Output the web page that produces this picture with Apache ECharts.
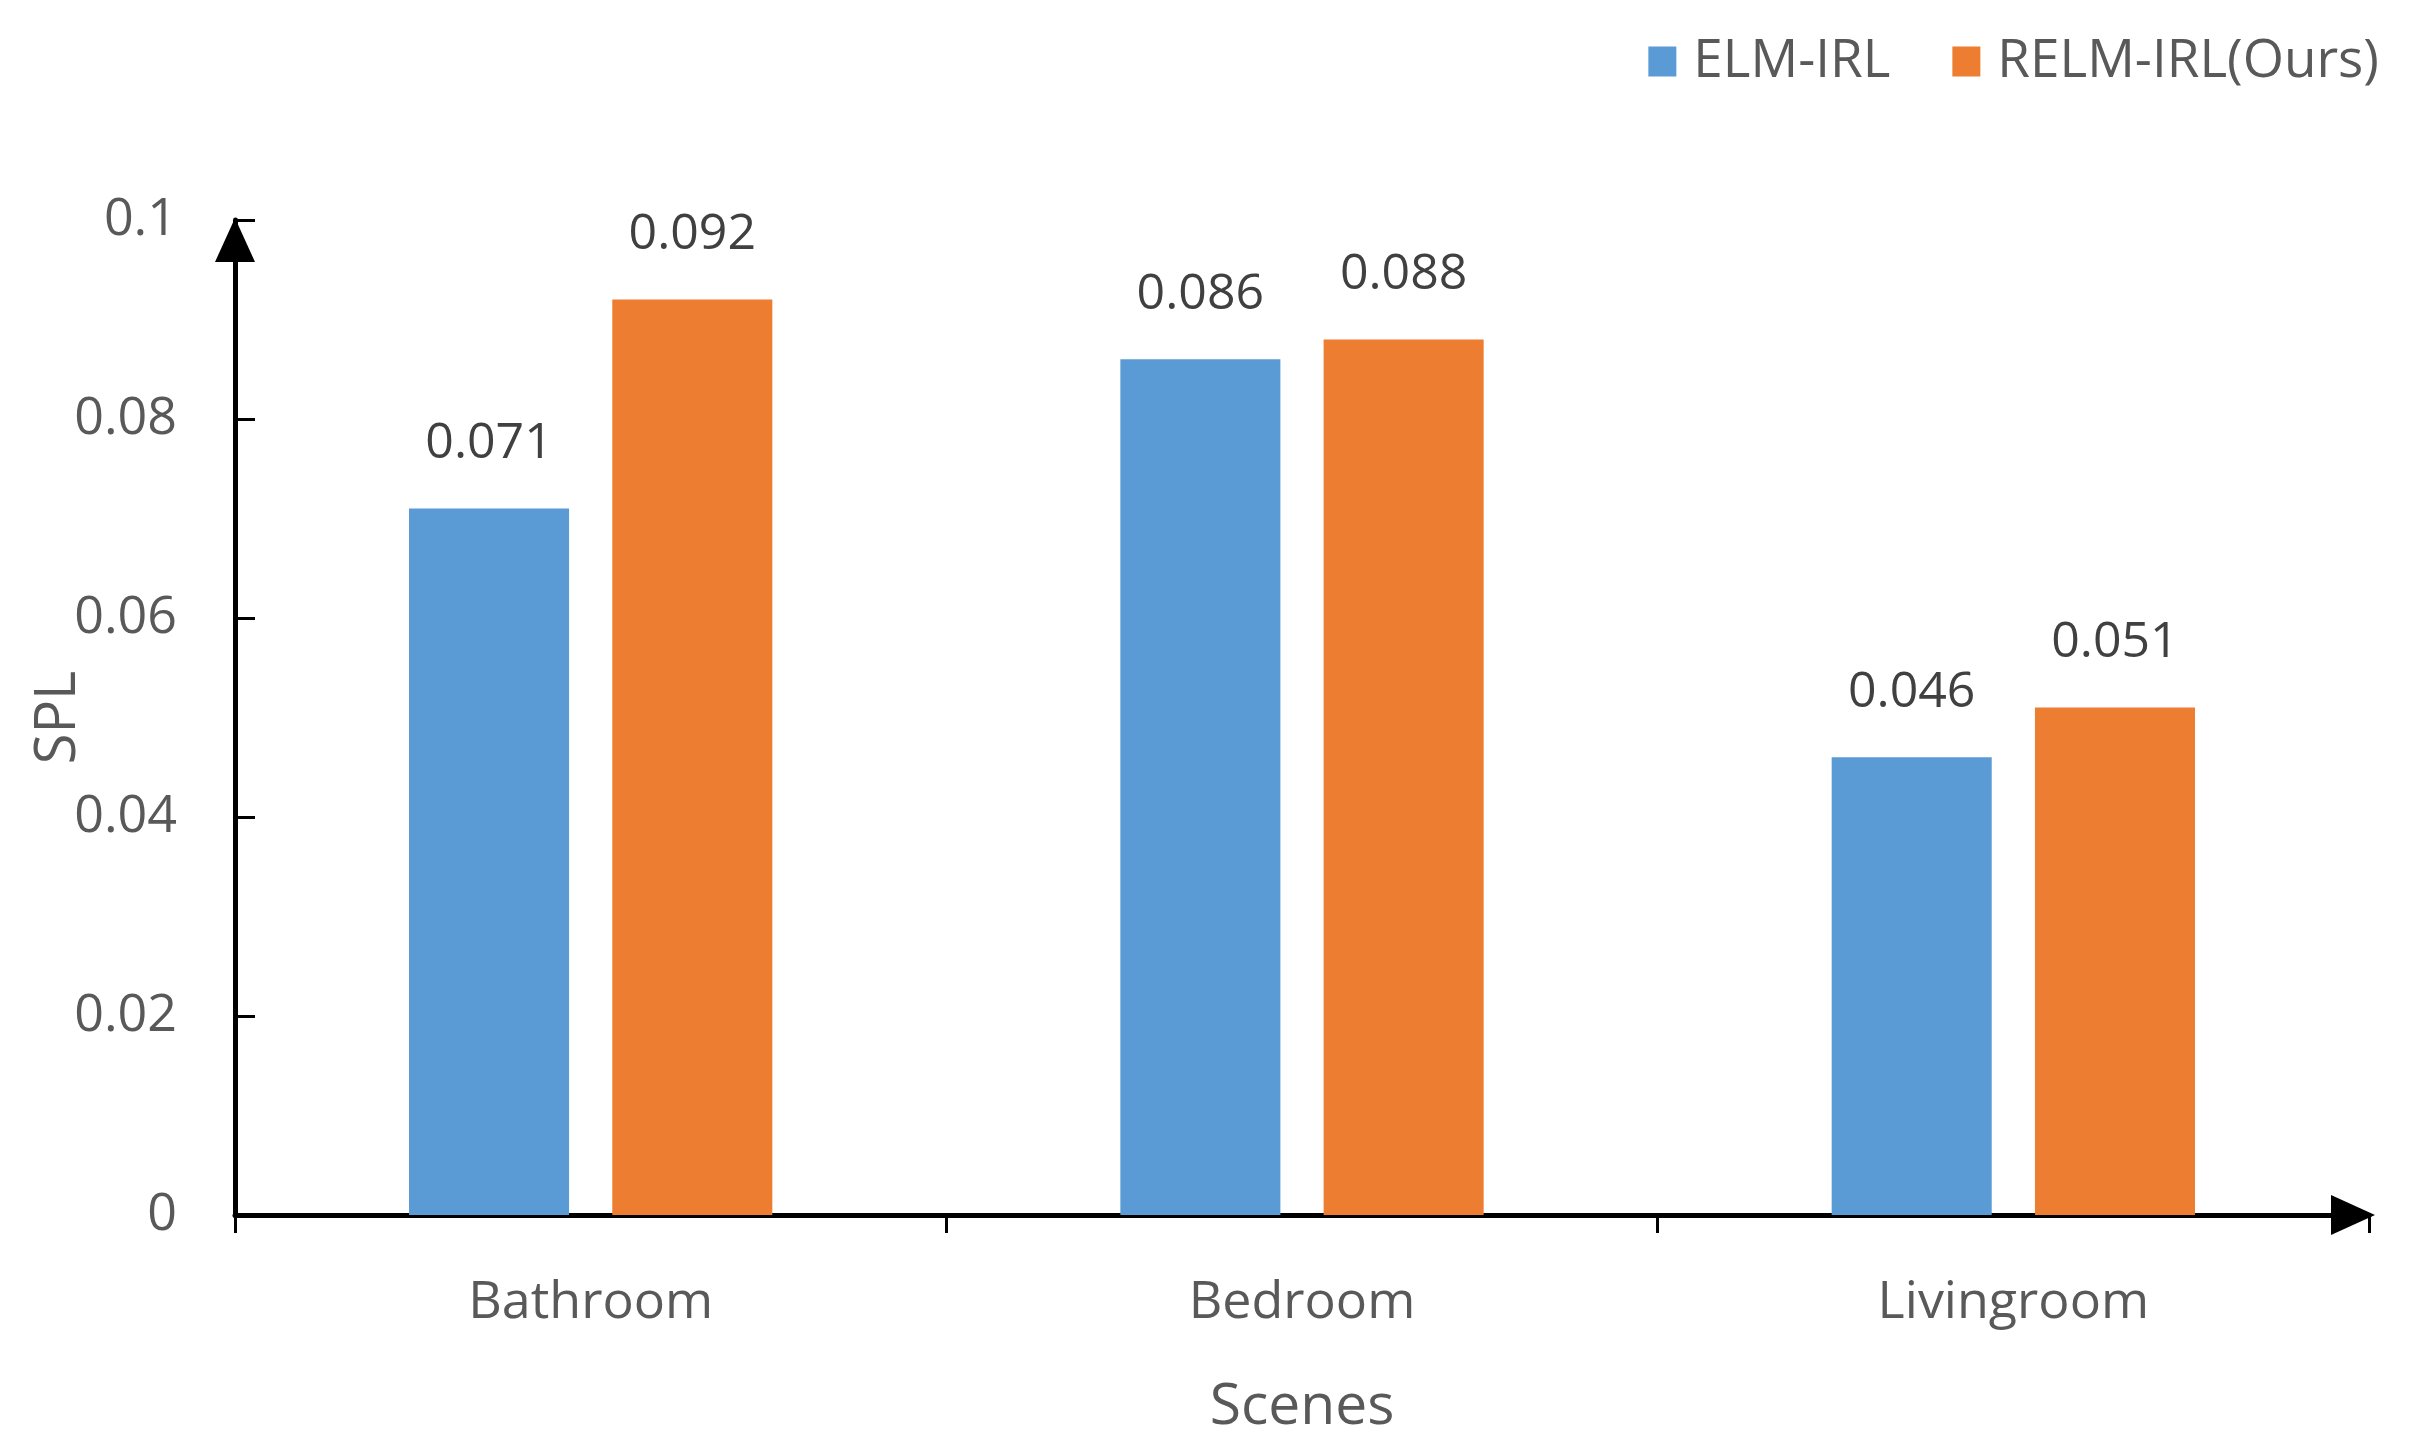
<!DOCTYPE html>
<html>
<head>
<meta charset="utf-8">
<script src="https://cdn.jsdelivr.net/npm/echarts@6/dist/echarts.min.js"></script>
<style>html,body{margin:0;padding:0;background:#fff;}#c{width:2409px;height:1456px;}</style>
</head>
<body>
<div id="c"></div>
<script>
const categories = ['Bathroom', 'Bedroom', 'Livingroom'];
const elmIrl = [0.071, 0.086, 0.046];
const relmIrl = [0.092, 0.088, 0.051];
const seriesNames = ['ELM-IRL', 'RELM-IRL(Ours)'];

const chart = echarts.init(document.getElementById('c'));
const FONT = 'Open Sans';
const labelStyle = {
  show: true, position: 'top', distance: 40,
  fontFamily: FONT, fontSize: 50, color: '#404040',
  formatter: p => p.value.toFixed(3)
};
chart.setOption({
  animation: false,
  legend: {
    data: seriesNames,
    right: 25, top: 30,
    itemWidth: 28, itemHeight: 30, itemGap: 62,
    icon: 'rect',
    textStyle: { fontFamily: FONT, fontSize: 53, color: '#595959', padding: [0, 0, 0, 12] }
  },
  grid: { left: 235, right: 40, top: 220, bottom: 241, containLabel: false },
  xAxis: {
    type: 'category', data: categories,
    name: 'Scenes', nameLocation: 'middle', nameGap: 164,
    nameTextStyle: { fontFamily: FONT, fontSize: 57, color: '#595959' },
    axisLine: { lineStyle: { color: '#000', width: 5 }, symbol: ['none', 'triangle'], symbolSize: [40, 44], symbolOffset: [0, -16] },
    axisTick: { show: true, length: 18, lineStyle: { color: '#000', width: 3 } },
    axisLabel: { fontFamily: FONT, fontSize: 52, color: '#595959', margin: 62 },
    splitLine: { show: false }
  },
  yAxis: {
    type: 'value', min: 0, max: 0.1, interval: 0.02,
    name: 'SPL', nameLocation: 'middle', nameGap: 148, nameRotate: 90, nameMoveOverlap: false,
    nameTextStyle: { fontFamily: FONT, fontSize: 56, color: '#595959' },
    axisLine: { show: true, lineStyle: { color: '#000', width: 5 }, symbol: ['none', 'triangle'], symbolSize: [40, 44], symbolOffset: [0, -20] },
    axisTick: { show: true, inside: true, length: 20, lineStyle: { color: '#000', width: 3 } },
    axisLabel: { fontFamily: FONT, fontSize: 52, color: '#595959', margin: 58 },
    splitLine: { show: false }
  },
  series: [
    { name: seriesNames[0], type: 'bar', data: elmIrl, barWidth: '22.5%', barGap: '27%',
      itemStyle: { color: '#5B9BD5' }, label: labelStyle },
    { name: seriesNames[1], type: 'bar', data: relmIrl, barWidth: '22.5%', barGap: '27%',
      itemStyle: { color: '#ED7D31' }, label: labelStyle }
  ]
});
</script>
</body>
</html>
